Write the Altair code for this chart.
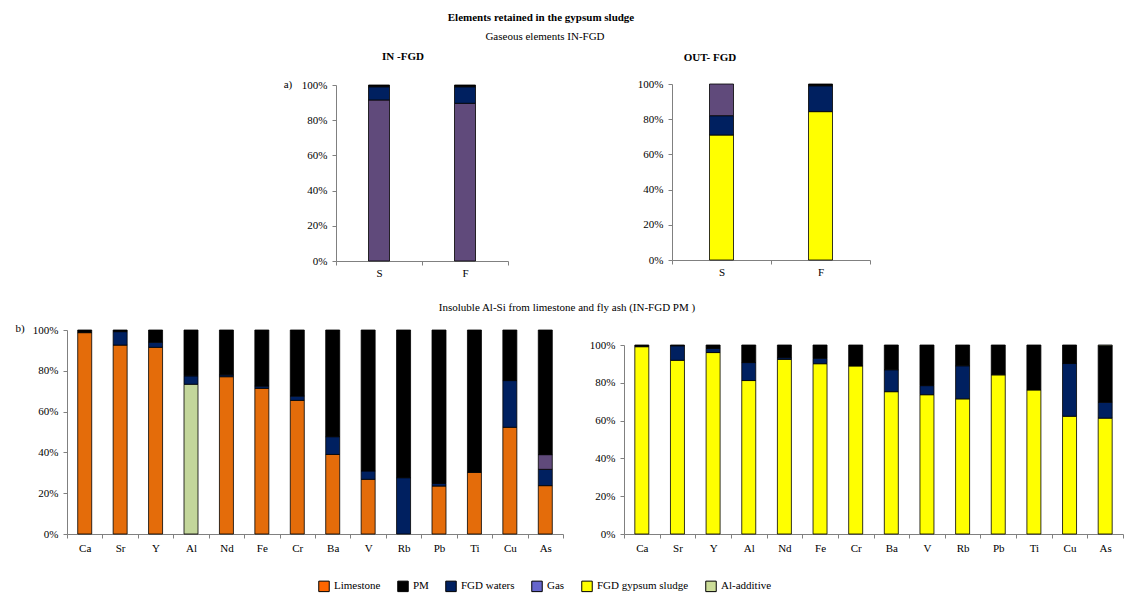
import altair as alt
import pandas as pd

W, H = 1128, 596
FONT = "Liberation Serif"

# ---------------- legend categories ----------------
series = ["Limestone", "PM", "FGD waters", "Gas", "FGD gypsum sludge", "Al-additive"]
series_colors = ["#E46C0A", "#000000", "#002060", "#604A7B", "#FFFF00", "#C3D69B"]
legend_colors = ["#FF6600", "#000000", "#002060", "#6666CC", "#FFFF00", "#CCDD99"]

# ---------------- a) IN-FGD (gaseous elements) ----------------
a_in_cats = ["S", "F"]
a_in_gas = [91.5, 89.6]
a_in_fgd_waters = [7.5, 9.4]
a_in_pm = [1.0, 1.0]

# ---------------- a) OUT-FGD ----------------
a_out_cats = ["S", "F"]
a_out_sludge = [71.0, 84.3]
a_out_fgd_waters = [11.0, 14.7]
a_out_gas = [18.0, 0.0]
a_out_pm = [0.0, 1.0]

# ---------------- b) elements ----------------
elements = ["Ca", "Sr", "Y", "Al", "Nd", "Fe", "Cr", "Ba", "V", "Rb", "Pb", "Ti", "Cu", "As"]

# IN-FGD
b_in_limestone = [98.7, 92.6, 91.5, 0.0, 77.1, 71.4, 65.5, 39.0, 26.8, 0.0, 23.5, 30.2, 52.3, 23.7]
b_in_al_additive = [0.0, 0.0, 0.0, 73.4, 0.0, 0.0, 0.0, 0.0, 0.0, 0.0, 0.0, 0.0, 0.0, 0.0]
b_in_fgd_waters = [0.0, 6.6, 2.5, 4.1, 0.9, 1.1, 2.1, 8.7, 4.1, 27.6, 1.3, 0.0, 22.9, 8.0]
b_in_gas = [0.0, 0.0, 0.0, 0.0, 0.0, 0.0, 0.0, 0.0, 0.0, 0.0, 0.0, 0.0, 0.0, 7.2]
b_in_pm = [1.3, 0.8, 6.0, 22.5, 22.0, 27.5, 32.4, 52.3, 69.1, 72.4, 75.2, 69.8, 24.8, 61.1]

# OUT-FGD
b_out_sludge = [99.1, 91.9, 96.0, 81.2, 92.4, 90.1, 88.9, 75.3, 73.7, 71.5, 84.2, 76.2, 62.3, 61.3]
b_out_fgd_waters = [0.0, 7.7, 2.2, 9.5, 0.9, 2.9, 0.0, 11.6, 4.8, 17.5, 0.0, 0.0, 27.9, 8.4]
b_out_pm = [0.9, 0.4, 1.8, 9.3, 6.7, 7.0, 11.1, 13.1, 21.5, 11.0, 15.8, 23.8, 9.8, 29.9]
b_out_al_additive = [0.0, 0.0, 0.0, 0.0, 0.0, 0.0, 0.0, 0.0, 0.0, 0.0, 0.0, 0.0, 0.0, 0.4]

y_ticks = [0, 20, 40, 60, 80, 100]


def long_table(cats, stack_series):
    """stack_series: list of (series name, values) from bottom to top."""
    rows = []
    for order, (name, vals) in enumerate(stack_series):
        for c, v in zip(cats, vals):
            if v > 0:
                rows.append({"cat": c, "series": name, "value": v, "order": order})
    return pd.DataFrame(rows)


legend = alt.Legend(
    orient="none", legendX=318, legendY=580, direction="horizontal", title=None,
    symbolType="square", symbolSize=110, symbolStrokeColor="black", symbolStrokeWidth=1,
    symbolOpacity=1, labelFont=FONT, labelFontSize=11, labelColor="black", labelOffset=4,
    columnPadding=14, labelLimit=200,
)


def panel(df, cats, xr, yr, size, xlab_pad):
    return alt.Chart(df).mark_bar(size=size, stroke="black", strokeWidth=0.8).encode(
        x=alt.X(
            "cat:N", sort=cats,
            scale=alt.Scale(range=list(xr), paddingInner=0, paddingOuter=0),
            axis=alt.Axis(title=None, orient="bottom", offset=yr[0] - H, labelAngle=0,
                          tickBand="extent", labelPadding=xlab_pad),
        ),
        y=alt.Y(
            "value:Q", stack="zero",
            scale=alt.Scale(domain=[0, 100], range=list(yr), nice=False, zero=True),
            axis=alt.Axis(title=None, orient="left", offset=-xr[0], values=y_ticks,
                          labelExpr="datum.value + '%'", grid=False, labelPadding=5),
        ),
        color=alt.Color("series:N", scale=alt.Scale(domain=series, range=series_colors),
                        legend=None),
        order=alt.Order("order:Q", sort="ascending"),
    )


df_a_in = long_table(a_in_cats, [("Gas", a_in_gas), ("FGD waters", a_in_fgd_waters), ("PM", a_in_pm)])
df_a_out = long_table(a_out_cats, [("FGD gypsum sludge", a_out_sludge), ("FGD waters", a_out_fgd_waters),
                                   ("Gas", a_out_gas), ("PM", a_out_pm)])
df_b_in = long_table(elements, [("Limestone", b_in_limestone), ("Al-additive", b_in_al_additive),
                                ("FGD waters", b_in_fgd_waters), ("Gas", b_in_gas), ("PM", b_in_pm)])
df_b_out = long_table(elements, [("FGD gypsum sludge", b_out_sludge), ("FGD waters", b_out_fgd_waters),
                                 ("PM", b_out_pm), ("Al-additive", b_out_al_additive)])

p1 = panel(df_a_in, a_in_cats, (336, 508), (261, 85), 21, 2)
p2 = panel(df_a_out, a_out_cats, (672, 870), (260, 84), 24, 2)
p3 = panel(df_b_in, elements, (67, 563), (534, 330), 14, 4)
p4 = panel(df_b_out, elements, (624, 1123), (534, 345), 14, 4)

# legend-only layer (its own colour scale, as the original legend's swatches differ from the bars)
legend_layer = alt.Chart(pd.DataFrame({"series": series})).transform_filter(
    "false"
).mark_square(filled=True, opacity=1).encode(
    color=alt.Color("series:N", scale=alt.Scale(domain=series, range=legend_colors),
                    legend=legend),
)


def label(text, x, y, bold=False):
    return alt.Chart(pd.DataFrame({"t": [text]})).mark_text(
        font=FONT, fontSize=11, fontWeight="bold" if bold else "normal",
        align="center", baseline="middle", color="black",
    ).encode(x=alt.value(x), y=alt.value(y), text="t:N")


texts = [
    label("Elements retained in the gypsum sludge", 541, 18, True),
    label("Gaseous elements IN-FGD", 545, 37),
    label("IN -FGD", 403, 57, True),
    label("OUT- FGD", 710, 58, True),
    label("Insoluble Al-Si from limestone and fly ash (IN-FGD PM )", 567, 308),
    label("a)", 288, 85),
    label("b)", 20, 329),
]

chart = alt.layer(p1, p2, p3, p4, legend_layer, *texts).resolve_scale(
    x="independent", y="independent", color="independent"
).resolve_axis(
    x="independent", y="independent"
).resolve_legend(
    color="independent"
).properties(
    width=W, height=H, autosize=alt.AutoSizeParams(type="none"), padding=0,
    background="white",
).configure_view(stroke=None).configure_axis(
    domainColor="#808080", tickColor="#808080", domainWidth=1, tickWidth=1, tickSize=4,
    labelFont=FONT, labelFontSize=11, labelColor="black",
)

chart.save("out.html", embed_options={"renderer": "svg", "actions": False})
